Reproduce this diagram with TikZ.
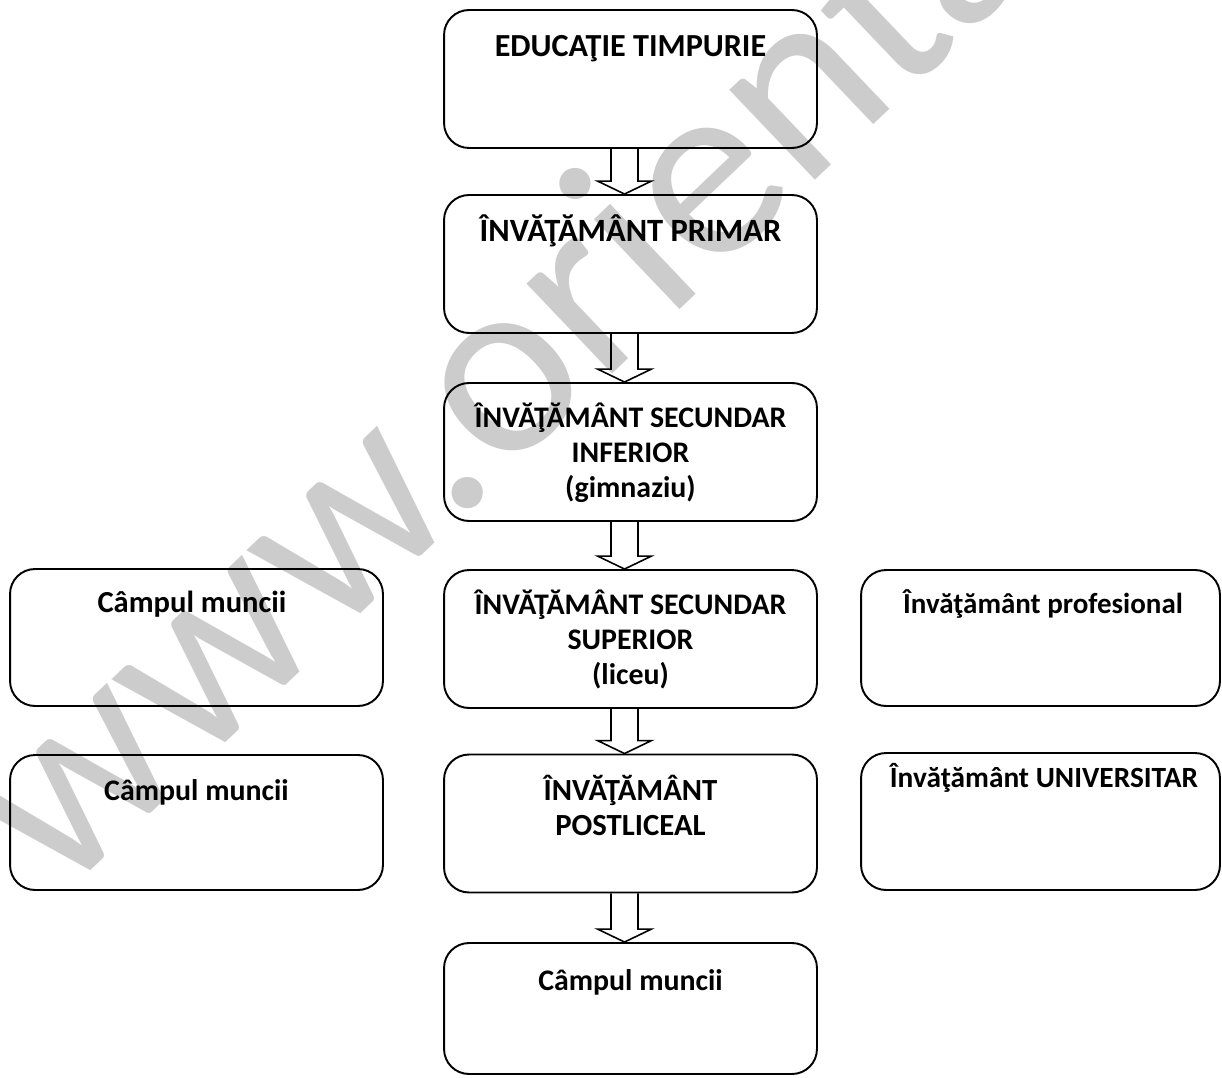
\documentclass[tikz,border=0pt]{standalone}
\usepackage{fontspec}
\setmainfont{Carlito}
\usetikzlibrary{positioning,calc}

\tikzset{
  box/.style={draw,line width=1.1pt,rounded corners=0.5cm,minimum width=7.46cm,minimum height=2.76cm,inner sep=0pt},
  lbl/.style={anchor=base,align=center,inner sep=0pt,font=\fontsize{#1}{19.9}\selectfont\bfseries},
  lbl/.default=17,
  blk/.style={line width=0.9pt,line join=miter},
  wmark/.style={anchor=base west,inner sep=0pt,text=black!20,font=\fontsize{148}{148}\selectfont}
}

% hollow block arrow from the bottom of #1 to the top of #2
\newcommand{\blockarrow}[2]{%
  \draw[blk] ($(#1.south)+(-19.5,0)$) -- ($(#2.north)+(-19.5,-13)$) -- ($(#2.north)+(-33,-13)$)
    -- ($(#2.north)+(-6,0)$) -- ($(#2.north)+(21,-13)$) -- ($(#2.north)+(7.5,-13)$) -- ($(#1.south)+(7.5,0)$);
}

\begin{document}
\begin{tikzpicture}[x=0.02cm,y=-0.02cm]
            \clip (0,0) rectangle (1222,1077);
            \node[wmark,rotate=43.6] (wm) at (60,900) {www.orienta};

            % middle column
            \node[box] (edu) at (630.5,79) {};
            \node[box] (prim) at (630.5,264) {};
            \node[box] (gimn) at (630.5,452) {};
            \node[box] (lic) at (630.5,639) {};
            \node[box] (post) at (630.5,823.5) {};
            \node[box,minimum height=2.62cm] (munca) at (630.5,1008.5) {};

            % side columns
            \node[box,minimum height=2.74cm] (muncaA) at (196.5,637.5) {};
            \node[box,minimum height=2.7cm] (muncaB) at (196.5,822.5) {};
            \node[box,minimum width=7.18cm,minimum height=2.72cm] (prof) at (1040.5,638) {};
            \node[box,minimum width=7.18cm,minimum height=2.74cm] (univ) at (1040.5,821.5) {};

            % texts (multi-line ones sit on their last line)
            \node[lbl=18.3] (tedu) at (630.5,57) {EDUCAŢIE TIMPURIE};
            \node[lbl=18.5] (tprim) at (630.5,242) {ÎNVĂŢĂMÂNT PRIMAR};
            \node[lbl] (tgimn) at (630.5,497) {ÎNVĂŢĂMÂNT SECUNDAR\\INFERIOR\\(gimnaziu)};
            \node[lbl] (tlic) at (630.5,684) {ÎNVĂŢĂMÂNT SECUNDAR\\SUPERIOR\\(liceu)};
            \node[lbl=17.5] (tpost) at (630.5,835) {ÎNVĂŢĂMÂNT\\POSTLICEAL};
            \node[lbl] (tmunca) at (630.5,990) {Câmpul muncii};
            \node[lbl=17.4] (tmuncaA) at (192,612) {Câmpul muncii};
            \node[lbl] (tmuncaB) at (196.5,800) {Câmpul muncii};
            \node[lbl=16.5] (tprof) at (1043,613) {Învăţământ profesional};
            \node[lbl=16.7] (tuniv) at (1044,787) {Învăţământ UNIVERSITAR};

            % arrows
            \blockarrow{edu}{prim}
            \blockarrow{prim}{gimn}
            \blockarrow{gimn}{lic}
            \blockarrow{lic}{post}
            \blockarrow{post}{munca}
\end{tikzpicture}
\end{document}
